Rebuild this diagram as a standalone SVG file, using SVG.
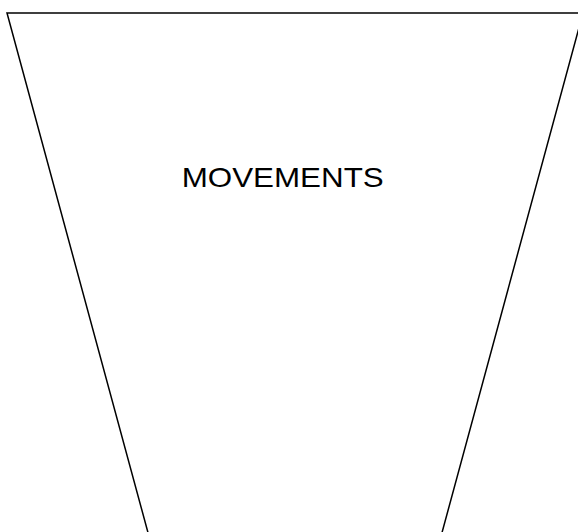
<svg xmlns="http://www.w3.org/2000/svg" width="578" height="532" viewBox="0 0 578 532">
<style>
.shape{fill:#fff;stroke:#000;stroke-width:1.5}
.lbl{font-family:"Liberation Sans",Arial,sans-serif;font-size:28.5px;fill:#000}
</style>
<rect width="578" height="532" fill="#fff"/>
<g id="movements">
<polygon class="shape" points="7,13 583,13 440,540 150,540"/>
<text class="lbl" x="282.7" y="186.5" text-anchor="middle" textLength="202" lengthAdjust="spacingAndGlyphs">MOVEMENTS</text>
</g>
</svg>
